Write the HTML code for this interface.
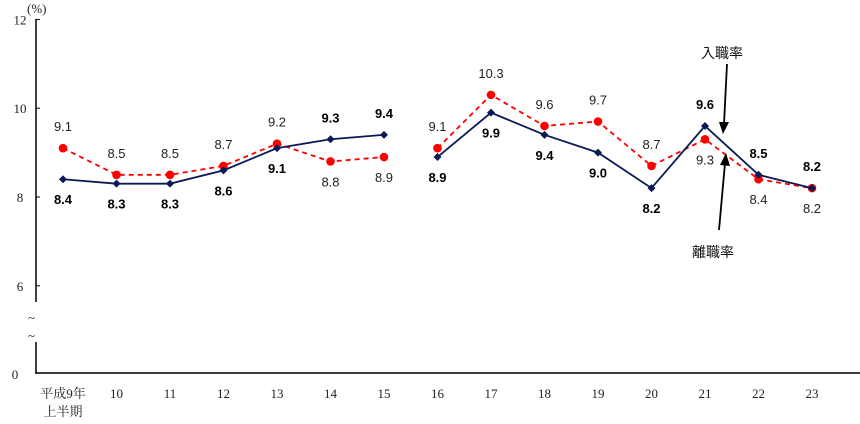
<!DOCTYPE html>
<html><head><meta charset="utf-8">
<style>
html,body{margin:0;padding:0;background:#fff;}
svg{display:block;font-family:"Liberation Sans","Noto Sans CJK JP",sans-serif;}
.tk{font-family:"Liberation Serif","Noto Serif CJK SC",serif;font-size:13px;fill:#222;}
.lh{font-size:13px;font-weight:bold;fill:#000;}
.ls{font-size:13px;fill:#222;}
</style></head>
<body>
<svg id="chart" width="860" height="424" viewBox="0 0 860 424" xmlns="http://www.w3.org/2000/svg"></svg>
<script>
const categories = ["平成9年\n上半期","10","11","12","13","14","15","16","17","18","19","20","21","22","23"];
const hireValues = [8.4,8.3,8.3,8.6,9.1,9.3,9.4,8.9,9.9,9.4,9.0,8.2,9.6,8.5,8.2];
const sepValues = [9.1,8.5,8.5,8.7,9.2,8.8,8.9,9.1,10.3,9.6,9.7,8.7,9.3,8.4,8.2];
const hireLabelSide = ["b","b","b","b","b","a","a","b","b","b","b","b","a","a","a"];
const sepLabelSide = ["a","a","a","a","a","b","b","a","a","a","a","a","b","b","b"];
const yTicks = [6,8,10,12];
const breakIndex = 7; // series break between 15 and 16

const svg = document.getElementById('chart');
const NS = 'http://www.w3.org/2000/svg';
function mk(tag, attrs, parent){const e=document.createElementNS(NS,tag);for(const k in attrs)e.setAttribute(k,attrs[k]);(parent||svg).appendChild(e);return e;}
const xPos = i => 63 + i*53.5;
const yPos = v => 197 - (v-8)*44.4;
const y0 = 373;

const ax = mk('g',{});


mk('line',{x1:36,y1:19,x2:36,y2:302,stroke:'#000','stroke-width':1.5},ax);
mk('line',{x1:36,y1:342,x2:36,y2:y0,stroke:'#000','stroke-width':1.5},ax);
mk('line',{x1:35,y1:y0,x2:860,y2:y0,stroke:'#000','stroke-width':1.5},ax);
const br = mk('text',{x:28,y:322,class:'tk','font-size':'18'},ax);br.textContent='~';


const br2 = mk('text',{x:28,y:340,class:'tk','font-size':'18'},ax);br2.textContent='~';


yTicks.forEach(v=>{
  const y=yPos(v);
  mk('line',{x1:36,y1:y,x2:40,y2:y,stroke:'#000'},ax);
  const t=mk('text',{x:20,y:y+5,class:'tk','text-anchor':'middle'},ax);t.textContent=v;
  
  
});
const z=mk('text',{x:15,y:y0+6,class:'tk','text-anchor':'middle'},ax);z.textContent='0';


const unit=mk('text',{x:27,y:13,class:'tk'},ax);unit.textContent='(%)';



categories.forEach((c,i)=>{
  const parts=c.split('\n');
  parts.forEach((p,j)=>{
    const t=mk('text',{x:xPos(i),y:398+j*18,class:'tk','text-anchor':'middle'});
    t.textContent=p;
    
    
  });
});

function series(vals,color,dash,marker,name){
  const g=mk('g',{});
  
  
  [[0,breakIndex],[breakIndex,vals.length]].forEach(([a,b])=>{
    const pts=[];for(let i=a;i<b;i++)pts.push(xPos(i)+','+yPos(vals[i]));
    mk('polyline',{points:pts.join(' '),fill:'none',stroke:color,'stroke-width':1.8,'stroke-dasharray':dash},g);
  });
  vals.forEach((v,i)=>{
    const x=xPos(i),y=yPos(v);
    let m;
    if(marker==='d') m=mk('polygon',{points:`${x},${y-4} ${x+4},${y} ${x},${y+4} ${x-4},${y}`,fill:color},g);
    else m=mk('circle',{cx:x,cy:y,r:4.3,fill:color},g);
    
    
  });
}
series(sepValues,'#ff0000','5,4','c','separation-rate-series');
series(hireValues,'#0a1a55','','d','hiring-rate-series');

function labels(vals,sides,cls,name){
  vals.forEach((v,i)=>{
    const y=yPos(v)+(sides[i]==='a'?-17:25);
    const t=mk('text',{x:xPos(i),y:y,class:cls,'text-anchor':'middle'});
    t.textContent=v.toFixed(1);
    
    
  });
}
labels(hireValues,hireLabelSide,'lh','hiring-value-label');
labels(sepValues,sepLabelSide,'ls','separation-value-label');

const a1=mk('g',{});


const t1=mk('text',{x:722,y:58,'font-size':'14','text-anchor':'middle',fill:'#111'},a1);t1.textContent='入職率';
mk('line',{x1:727,y1:64,x2:724,y2:124,stroke:'#000','stroke-width':1.8},a1);
mk('polygon',{points:'719,122 729,122 723,134',fill:'#000'},a1);
const a2=mk('g',{});


const t2=mk('text',{x:713,y:257,'font-size':'14','text-anchor':'middle',fill:'#111'},a2);t2.textContent='離職率';
mk('line',{x1:719,y1:230,x2:725,y2:163,stroke:'#000','stroke-width':1.8},a2);
mk('polygon',{points:'720,165 730,166 726,153',fill:'#000'},a2);
</script>
</body></html>
